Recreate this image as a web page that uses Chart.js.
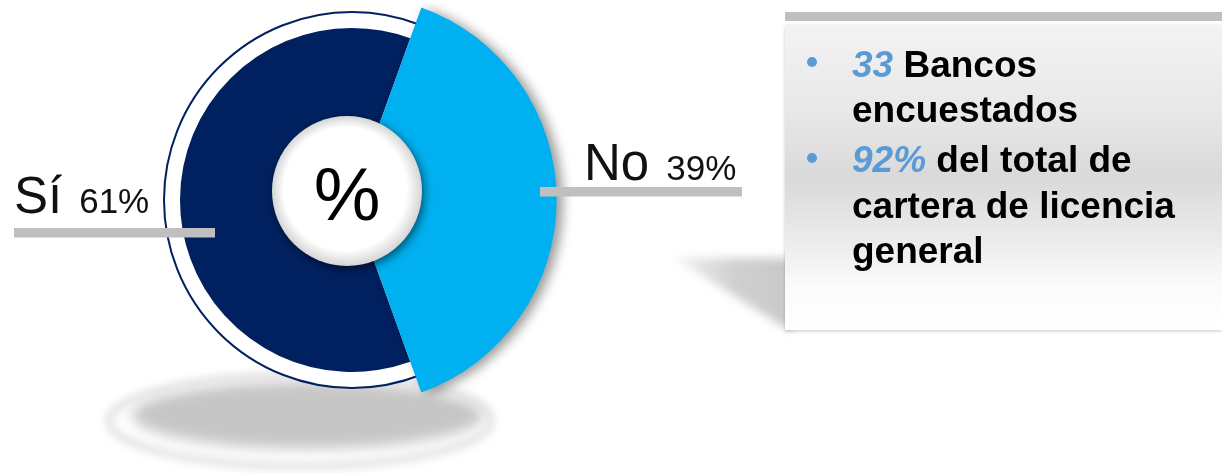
<!DOCTYPE html>
<html>
<head>
<meta charset="utf-8">
<script src="https://cdn.jsdelivr.net/npm/chart.js@4.4.1/dist/chart.umd.min.js"></script>
<style>
html,body{margin:0;padding:0;background:#fff;}
#wrap{position:relative;width:1222px;height:473px;overflow:hidden;font-family:"Liberation Sans",Arial,sans-serif;}
#c{position:absolute;left:0;top:0;}
#bar{position:absolute;left:785px;top:12px;width:437px;height:9px;background:#bfbfbf;}
#box{position:absolute;left:785px;top:25px;width:437px;height:305px;
  background:linear-gradient(#f3f3f3 0%,#e8e8e8 28%,#d9d9d9 50%,#ebebeb 70%,#fbfbfb 86%,#fff 100%);
  box-shadow:0 1px 3px rgba(0,0,0,0.22);}
.ln{position:absolute;left:852px;font-weight:bold;font-size:37px;line-height:45px;color:#000;white-space:nowrap;}
.hl{color:#5b9bd5;font-style:italic;}
.dot{position:absolute;left:807px;width:10px;height:10px;border-radius:50%;background:#5b9bd5;}
</style>
</head>
<body>
<div id="wrap">
  <canvas id="c" width="1222" height="473"></canvas>
  <div id="bar"></div>
  <div id="box"></div>
  <div class="dot" style="top:57px"></div>
  <div class="dot" style="top:153px"></div>
  <div class="ln" style="top:42px"><span class="hl">33</span> Bancos</div>
  <div class="ln" style="top:87px">encuestados</div>
  <div class="ln" style="top:137px"><span class="hl">92%</span> del total de</div>
  <div class="ln" style="top:183px">cartera de licencia</div>
  <div class="ln" style="top:228px">general</div>
</div>
<script>
// ---- data ----
const categories = ['Sí', 'No'];
const values = [61, 39];
const centerSymbol = '%';

const sliceColors = ['#002060', '#00B0F0'];

const decor = {
  id: 'decor',
  beforeDraw(chart) {
    const ctx = chart.ctx;
    ctx.save();
    // floor shadow under the pie
    ctx.filter = 'blur(7px)';
    ctx.fillStyle = '#c6c6c6';
    ctx.beginPath(); ctx.ellipse(308, 415, 176, 34, 0, 0, Math.PI * 2); ctx.fill();
    ctx.filter = 'blur(4px)';
    ctx.strokeStyle = '#e0e0e0'; ctx.lineWidth = 7;
    ctx.beginPath(); ctx.ellipse(300, 421, 191, 45, 0, 0, Math.PI * 2); ctx.stroke();
    // shadow of the text box
    ctx.filter = 'blur(5px)';
    const tg = ctx.createLinearGradient(676, 0, 792, 0);
    tg.addColorStop(0, 'rgba(200,200,200,0.25)');
    tg.addColorStop(0.5, 'rgba(200,200,200,0.85)');
    tg.addColorStop(1, 'rgba(200,200,200,1)');
    ctx.fillStyle = tg;
    ctx.beginPath(); ctx.moveTo(674, 258); ctx.lineTo(792, 258); ctx.lineTo(792, 332); ctx.closePath(); ctx.fill();
    ctx.restore();
  },
  beforeDatasetsDraw(chart) {
    const ctx = chart.ctx;
    const meta = chart.getDatasetMeta(0);
    const a0 = meta.data[0], a1 = meta.data[1];
    const r = a0.outerRadius;
    // outer white ring with navy outline
    ctx.save();
    ctx.fillStyle = '#fff';
    ctx.beginPath(); ctx.arc(a0.x, a0.y, r + 16, 0, Math.PI * 2); ctx.fill();
    ctx.strokeStyle = '#002060'; ctx.lineWidth = 2;
    ctx.beginPath(); ctx.arc(a0.x, a0.y, r + 16, 0, Math.PI * 2); ctx.stroke();
    ctx.restore();
    // the "No" slice sticks out further
    a1.outerRadius = r * 1.19;
    if (!a1._wrapped) {
      const orig = a1.draw.bind(a1);
      a1.draw = function (c) {
        c.save();
        c.shadowColor = 'rgba(0,0,0,0.4)';
        c.shadowBlur = 12;
        c.shadowOffsetX = 6;
        c.shadowOffsetY = 2;
        orig(c);
        c.restore();
      };
      a1._wrapped = true;
    }
  },
  afterDatasetsDraw(chart) {
    const ctx = chart.ctx;
    const meta = chart.getDatasetMeta(0);
    const a0 = meta.data[0];
    const cx = a0.x - 5, cy = a0.y - 9;
    // center white button
    ctx.save();
    ctx.shadowColor = 'rgba(0,0,0,0.55)';
    ctx.shadowBlur = 10;
    ctx.shadowOffsetX = 2;
    ctx.shadowOffsetY = 3;
    const g = ctx.createRadialGradient(cx - 8, cy - 10, 10, cx, cy, 76);
    g.addColorStop(0, '#ffffff');
    g.addColorStop(0.78, '#ffffff');
    g.addColorStop(1, '#d2d2d2');
    ctx.fillStyle = g;
    ctx.beginPath(); ctx.arc(cx, cy, 75, 0, Math.PI * 2); ctx.fill();
    ctx.restore();
    ctx.save();
    ctx.fillStyle = '#000';
    ctx.font = '75px "Liberation Sans", Arial, sans-serif';
    ctx.textAlign = 'center';
    ctx.textBaseline = 'alphabetic';
    ctx.fillText(centerSymbol, cx, cy + 29);
    ctx.restore();

    // labels with leader bars
    const labelPos = [
      {x: 14, y: 213, barX: 14, barW: 201, barY: 228},
      {x: 584, y: 180, barX: 540, barW: 202, barY: 187}
    ];
    ctx.save();
    categories.forEach((name, i) => {
      const p = labelPos[i];
      ctx.fillStyle = '#bfbfbf';
      ctx.fillRect(p.barX, p.barY, p.barW, 9.5);
      ctx.fillStyle = '#111';
      ctx.textAlign = 'left';
      ctx.textBaseline = 'alphabetic';
      ctx.font = '51px "Liberation Sans", Arial, sans-serif';
      ctx.fillText(name, p.x, p.y);
      const w = ctx.measureText(name).width;
      ctx.font = '35px "Liberation Sans", Arial, sans-serif';
      ctx.fillText(values[i] + '%', p.x + w + 17, p.y);
    });
    ctx.restore();
  }
};

new Chart(document.getElementById('c'), {
  type: 'pie',
  data: {
    labels: categories,
    datasets: [{
      data: values,
      backgroundColor: sliceColors,
      borderWidth: 0,
      hoverOffset: 0
    }]
  },
  options: {
    responsive: false,
    animation: false,
    events: [],
    rotation: 90 + values[1] / (values[0] + values[1]) * 180,
    layout: {padding: {left: 180, right: 698, top: 28, bottom: 101}},
    plugins: {legend: {display: false}, tooltip: {enabled: false}}
  },
  plugins: [decor]
});
</script>
</body>
</html>
